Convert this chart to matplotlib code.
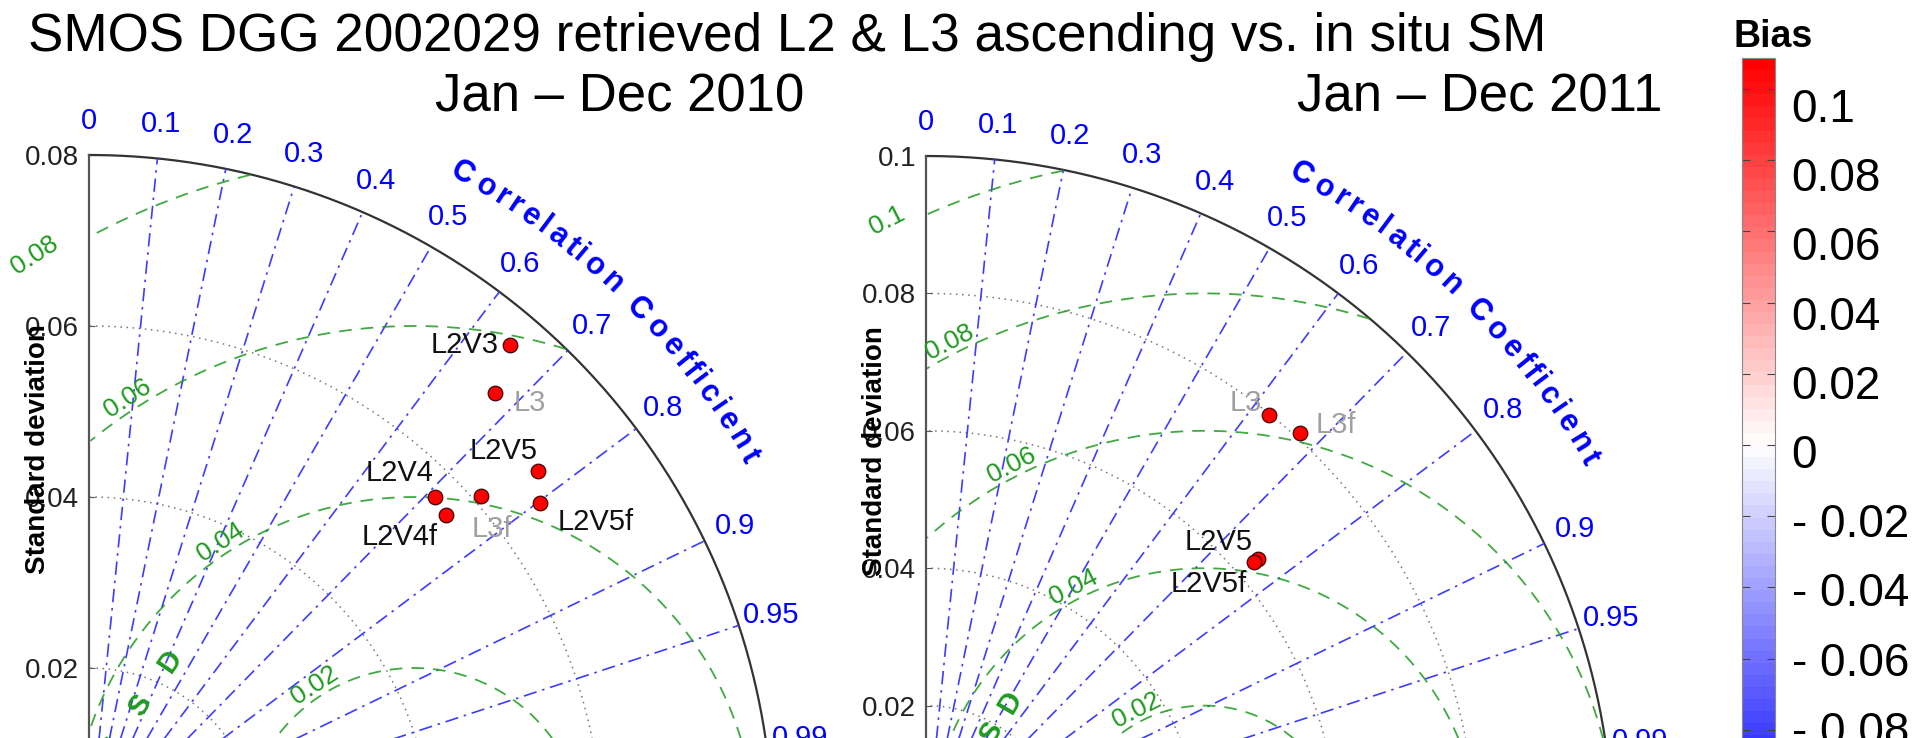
import numpy as np
import matplotlib
matplotlib.use("Agg")
import matplotlib.pyplot as plt
from matplotlib import cm, colors
from matplotlib.transforms import ScaledTranslation

plt.rcParams['font.family'] = ['Liberation Sans', 'DejaVu Sans']

## ---------------- data ----------------
title = "SMOS DGG 2002029 retrieved L2 & L3 ascending vs. in situ SM"
periods = ["Jan \u2013 Dec 2010", "Jan \u2013 Dec 2011"]

## 2010 diagram
names_2010 = ["L2V3", "L3", "L2V5", "L2V5f", "L3f", "L2V4", "L2V4f"]
std_2010 = [0.0759, 0.0705, 0.0679, 0.0657, 0.0609, 0.0569, 0.0564]
corr_2010 = [0.649, 0.673, 0.774, 0.802, 0.753, 0.712, 0.740]
bias_2010 = [0.11, 0.11, 0.11, 0.11, 0.11, 0.11, 0.11]
ref_2010 = 0.038
std_ticks_2010 = [0.02, 0.04, 0.06, 0.08]
rms_levels_2010 = [0.02, 0.04, 0.06, 0.08]

## 2011 diagram
names_2011 = ["L3", "L3f", "L2V5", "L2V5f"]
std_2011 = [0.0798, 0.0807, 0.0636, 0.0629]
corr_2011 = [0.626, 0.674, 0.759, 0.760]
bias_2011 = [0.11, 0.11, 0.11, 0.11]
ref_2011 = 0.0405
std_ticks_2011 = [0.02, 0.04, 0.06, 0.08, 0.1]
rms_levels_2011 = [0.02, 0.04, 0.06, 0.08, 0.1]

corr_ticks = [0, 0.1, 0.2, 0.3, 0.4, 0.5, 0.6, 0.7, 0.8, 0.9, 0.95, 0.99]
bias_ticks = [-0.1, -0.08, -0.06, -0.04, -0.02, 0, 0.02, 0.04, 0.06, 0.08, 0.1]
bias_lim = 0.1087

## ---------------- style ----------------
W, H = 1915, 738
BLUE = "#0000ff"
LINE_BLUE = "#3c3cff"
GREEN = "#1f9a1f"
GREY_LABEL = "#a0a0a0"
PX = 0.72  # points per pixel at dpi 100

## label placement for each point: (ha, dx px, dy px), dy positive up
lab_2010 = [("right", -12, 0), ("left", 19, -10), ("center", -35, 20),
            ("left", 18, -19), ("center", 11, -33), ("center", -36, 24),
            ("center", -46, -22)]
lab_2011 = [("center", -23, 12), ("left", 16, 8), ("center", -39, 17),
            ("center", -46, -22)]

## advance widths of Arial bold (per em) for the curved axis title
bold_w = {"C": .722, "o": .611, "r": .389, "e": .556, "l": .278, "a": .556,
          "t": .333, "i": .278, "n": .611, " ": .278, "f": .333, "c": .556}

cmap = plt.get_cmap("bwr", 64)
norm = colors.Normalize(vmin=-bias_lim, vmax=bias_lim)


def draw_taylor(ax, stds, corrs, biases, names, labpos, ref, std_ticks,
                rms_levels, rms_ang, rmsd_d, rmsd_step):
    """ draw one (cropped) taylor diagram in data coordinates """
    smax = std_ticks[-1]
    ax.set_xlim(0, smax)
    ax.set_ylim(0, smax)
    for s in ["top", "right", "bottom"]:
        ax.spines[s].set_visible(False)
    ax.spines["left"].set_color("#555555")
    ax.spines["left"].set_linewidth(1.6)
    ax.set_xticks([])
    ax.set_yticks(std_ticks)
    ax.set_yticklabels(["%g" % t for t in std_ticks])
    ax.tick_params(axis="y", direction="in", length=4, labelsize=20,
                   pad=7, labelcolor="#222222", color="#555555")
    ax.set_ylabel("Standard deviation", fontsize=20, fontweight="bold")
    ax.yaxis.set_label_coords(-0.055, 0.57)

    th = np.linspace(0, np.pi / 2, 400)
    ## outer arc
    ax.plot(smax * np.cos(th), smax * np.sin(th), color="#333333", lw=1.6,
            clip_on=False)
    ## std arcs
    for t in std_ticks[:-1]:
        ax.plot(t * np.cos(th), t * np.sin(th), color="#777777", lw=1.1,
                ls=(0, (1, 3)))

    ## correlation lines and labels
    for c in corr_ticks:
        a = np.arccos(c)
        if c > 0:
            ax.plot([0, smax * np.cos(a)], [0, smax * np.sin(a)],
                    color=LINE_BLUE, lw=1.2, ls=(0, (8, 3.5, 1.5, 3.5)))
        ax.text(1.05 * smax * np.cos(a), 1.05 * smax * np.sin(a), "%g" % c,
                color=BLUE, fontsize=21, ha="center", va="center")

    ## curved "Correlation Coefficient"
    word = "Correlation Coefficient"
    cum = np.cumsum([bold_w[ch] for ch in word])
    centers = cum - np.array([bold_w[ch] for ch in word]) / 2
    frac = (centers - centers[0]) / (centers[-1] - centers[0])
    angs = np.radians(60.7 + frac * (30.1 - 60.7))
    for ch, a in zip(word, angs):
        ax.text(1.116 * smax * np.cos(a), 1.116 * smax * np.sin(a), ch,
                color=BLUE, fontsize=22, fontweight="bold", ha="center",
                va="center", rotation=np.degrees(a) - 90,
                rotation_mode="anchor")

    ## rms contours and labels
    phi = np.linspace(0, np.pi, 800)
    for r in rms_levels:
        x = ref + r * np.cos(phi)
        y = r * np.sin(phi)
        keep = (x >= 0) & (x ** 2 + y ** 2 <= smax ** 2)
        ax.plot(np.where(keep, x, np.nan), np.where(keep, y, np.nan),
                color=GREEN, lw=1.3, ls=(0, (7, 5)), alpha=0.85)
        a = np.radians(rms_ang)
        ax.text(ref + r * np.cos(a), r * np.sin(a), "%g" % r, color=GREEN,
                fontsize=19, ha="center", va="bottom",
                rotation=rms_ang - 90, rotation_mode="anchor")
    ## "RMSD" letters
    ang = np.degrees(np.arctan2(rmsd_step[1], rmsd_step[0]))
    for i, ch in enumerate("DSMR"):
        ax.text(rmsd_d[0] - i * rmsd_step[0], rmsd_d[1] - i * rmsd_step[1],
                ch, color=GREEN, fontsize=21, fontweight="bold",
                ha="center", va="center", rotation=ang,
                rotation_mode="anchor")

    ## points
    for s, c, b, n, (ha, dx, dy) in zip(stds, corrs, biases, names, labpos):
        a = np.arccos(c)
        x, y = s * np.cos(a), s * np.sin(a)
        ax.plot(x, y, "o", ms=10.5, mfc=cmap(norm(b)), mec="#440000",
                mew=0.9, zorder=5)
        col = GREY_LABEL if n.startswith("L3") else "#111111"
        ax.annotate(n, (x, y), xytext=(dx * PX, dy * PX),
                    textcoords="offset points", ha=ha, va="center",
                    fontsize=21, color=col, zorder=6)


fig = plt.figure(figsize=(W / 100, H / 100), dpi=100)

## left diagram: origin at (89, 839) px, radius 684 px
ax1 = fig.add_axes([89 / W, (H - 839) / H, 684 / W, 684 / H])
draw_taylor(ax1, std_2010, corr_2010, bias_2010, names_2010, lab_2010,
            ref_2010, std_ticks_2010, rms_levels_2010, 123,
            (0.0095, 0.0208), (0.00352, 0.00515))

## right diagram: origin at (926, 843) px, radius 687 px
ax2 = fig.add_axes([926 / W, (H - 843) / H, 687 / W, 687 / H])
draw_taylor(ax2, std_2011, corr_2011, bias_2011, names_2011, lab_2011,
            ref_2011, std_ticks_2011, rms_levels_2011, 117,
            (0.01223, 0.02057), (0.00267, 0.00456))

## titles
fig.text(787 / W, 1 - 51 / H, title, ha="center", va="baseline", fontsize=38.2)
fig.text(620 / W, 1 - 112 / H, periods[0], ha="center", va="baseline",
         fontsize=38)
fig.text(1480 / W, 1 - 112 / H, periods[1], ha="center", va="baseline",
         fontsize=38)

## colorbar: zero tick at y=445 px, 71.2 px per 0.02
cax = fig.add_axes([1742 / W, (H - 832) / H, 33 / W, (832 - 58) / H])
cb = fig.colorbar(cm.ScalarMappable(norm=norm, cmap=cmap), cax=cax,
                  ticks=bias_ticks)
cb.ax.set_yticklabels(["0" if t == 0 else ("%g" % t if t > 0 else
                       "- %g" % abs(t)) for t in bias_ticks])
cb.ax.tick_params(direction="in", length=6, left=True, right=True,
                  labelsize=33, pad=12, color="#444444")
## the labels in the original are spaced a bit tighter than the ticks
for lab, t in zip(cb.ax.get_yticklabels(), bias_ticks):
    down = 6 + 2.0 * t / 0.02
    lab.set_transform(lab.get_transform() +
                      ScaledTranslation(0, -down / 100, fig.dpi_scale_trans))
cb.outline.set_edgecolor("#888888")
fig.text(1773 / W, 1 - 37 / H, "Bias", ha="center", va="center",
         fontsize=27, fontweight="bold")

fig.savefig("out.png", dpi=100)
